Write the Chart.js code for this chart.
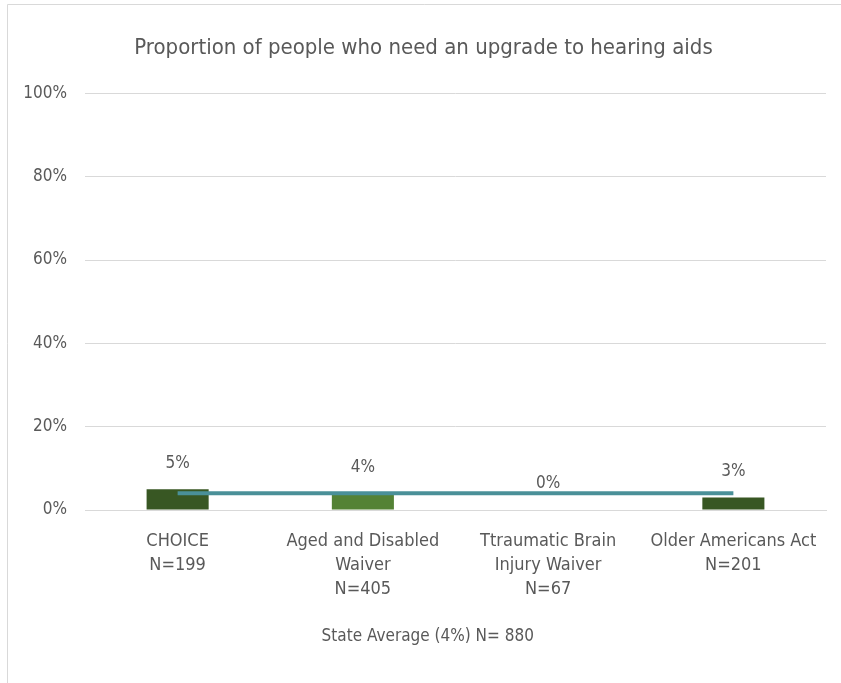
<!DOCTYPE html>
<html>
<head>
<meta charset="utf-8">
<script src="https://cdn.jsdelivr.net/npm/chart.js@4.4.1/dist/chart.umd.min.js"></script>
<style>
  html, body { margin: 0; padding: 0; background: #ffffff; }
  #wrap { position: absolute; left: 0; top: 0; width: 841px; height: 683px; }
</style>
</head>
<body>
<div id="wrap"><canvas id="c" width="841" height="683"></canvas></div>
<script>
const categories = [
  ["CHOICE", "N=199"],
  ["Aged and Disabled", "Waiver", "N=405"],
  ["Ttraumatic Brain", "Injury Waiver", "N=67"],
  ["Older Americans Act", "N=201"]
];
const programValues = [5, 4, 0, 3];
const stateAverage = [4, 4, 4, 4];
const barColors = ["#385723", "#548235", "#548235", "#385723"];
const yTicks = [0, 20, 40, 60, 80, 100];
const titleText = "Proportion of people who need an upgrade to hearing aids";
const legendText = "State Average (4%) N= 880";

const FONT = "'Liberation Sans Narrow', 'DejaVu Sans Condensed', 'Open Sans', sans-serif";
const GRAY = "#595959";
const PAD_LEFT = 21;

const framePlugin = {
  id: 'frame',
  beforeDraw(chart) {
    const ctx = chart.ctx;
    ctx.save();
    ctx.fillStyle = '#ffffff';
    ctx.fillRect(0, 0, chart.width, chart.height);
    ctx.strokeStyle = '#d9d9d9';
    ctx.lineWidth = 1;
    ctx.beginPath();
    ctx.moveTo(7.5, 683);
    ctx.lineTo(7.5, 4.5);
    ctx.lineTo(841, 4.5);
    ctx.stroke();
    ctx.restore();
  }
};

const labelPlugin = {
  id: 'valueLabels',
  afterDatasetsDraw(chart) {
    const meta = chart.getDatasetMeta(1);
    const ctx = chart.ctx;
    ctx.save();
    ctx.font = "17px " + FONT;
    ctx.fillStyle = GRAY;
    ctx.textAlign = 'center';
    ctx.textBaseline = 'middle';
    meta.data.forEach((bar, i) => {
      ctx.fillText(programValues[i] + '%', bar.x, bar.y - 26);
    });
    ctx.restore();
  }
};

new Chart(document.getElementById('c'), {
  data: {
    labels: categories,
    datasets: [
      {
        type: 'line',
        label: legendText,
        data: stateAverage,
        borderColor: '#4a9098',
        backgroundColor: '#4a9098',
        borderWidth: 4,
        pointRadius: 0,
        order: 0
      },
      {
        type: 'bar',
        label: 'Programs',
        data: programValues,
        backgroundColor: barColors,
        categoryPercentage: 1,
        barPercentage: 0.335,
        order: 1
      }
    ]
  },
  options: {
    responsive: false,
    animation: false,
    devicePixelRatio: 1,
    layout: { padding: { left: PAD_LEFT, right: 15, top: 0, bottom: 28 } },
    plugins: {
      title: {
        display: true,
        text: titleText,
        color: GRAY,
        font: { family: FONT, size: 22, weight: 'normal' },
        padding: { top: 35, bottom: 32 }
      },
      legend: {
        display: true,
        position: 'bottom',
        labels: {
          generateLabels: (chart) => [{
            text: legendText,
            fillStyle: 'rgba(0,0,0,0)',
            strokeStyle: 'rgba(0,0,0,0)',
            lineWidth: 0,
            fontColor: GRAY,
            datasetIndex: 0,
            hidden: false
          }],
          color: GRAY,
          boxWidth: 0,
          boxHeight: 0,
          padding: 10,
          font: { family: FONT, size: 17 }
        }
      },
      tooltip: { enabled: false }
    },
    scales: {
      x: {
        grid: { display: false, drawTicks: false },
        border: { color: '#d9d9d9' },
        ticks: {
          color: GRAY,
          font: { family: FONT, size: 18, lineHeight: 1.33 },
          padding: 19,
          maxRotation: 0,
          autoSkip: false
        },
        afterFit(scale) { scale.height = 108; }
      },
      y: {
        min: 0,
        max: 100,
        afterBuildTicks(scale) { scale.ticks = yTicks.map(v => ({ value: v })); },
        grid: { color: '#d9d9d9', drawTicks: false },
        border: { display: false },
        ticks: {
          color: GRAY,
          font: { family: FONT, size: 17 },
          padding: 18,
          callback: (v) => v + '%'
        },
        afterFit(scale) { scale.width = 85 - PAD_LEFT; }
      }
    }
  },
  plugins: [framePlugin, labelPlugin]
});
</script>
</body>
</html>
